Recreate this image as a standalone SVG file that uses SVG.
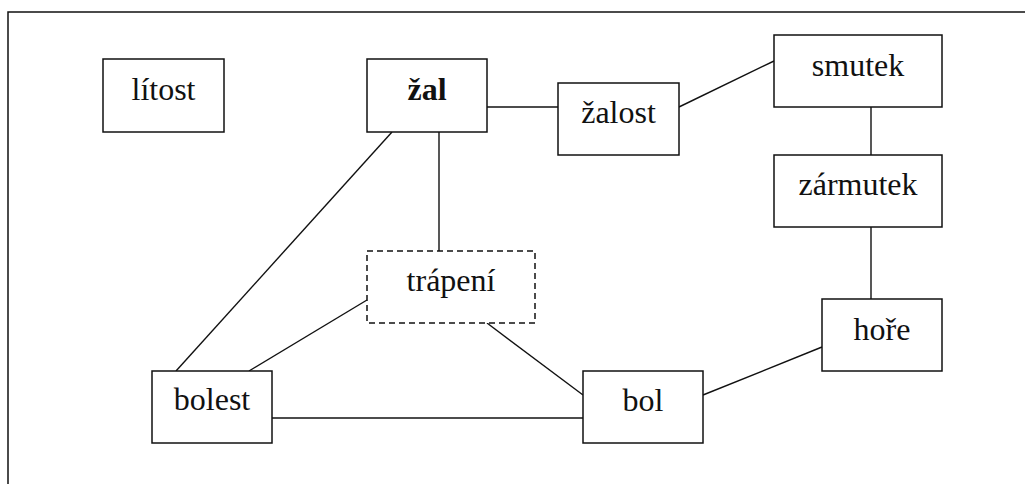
<svg xmlns="http://www.w3.org/2000/svg" width="1025" height="484" viewBox="0 0 1025 484">
<style>
.box{fill:#fff;stroke:#111;stroke-width:1.5}
.dash{stroke-dasharray:6,4}
.lbl{font-family:'Liberation Serif','DejaVu Serif',serif;font-size:32px;fill:#111;text-anchor:middle}
.b{font-weight:bold}
.con line{stroke:#111;stroke-width:1.4}
</style>
<rect width="1025" height="484" fill="#fff"/>
<path d="M8,484 V12 H1025" fill="none" stroke="#111" stroke-width="1.5"/>
<g class="con" id="connectors">
<line x1="487" y1="107" x2="558" y2="107"/>
<line x1="679" y1="107" x2="774" y2="61"/>
<line x1="871" y1="107" x2="871" y2="155"/>
<line x1="871" y1="227" x2="871" y2="299"/>
<line x1="822" y1="347" x2="703" y2="395"/>
<line x1="487" y1="323" x2="583" y2="395"/>
<line x1="272" y1="418" x2="583" y2="418"/>
<line x1="249" y1="371" x2="367" y2="300"/>
<line x1="176" y1="371" x2="392" y2="132"/>
<line x1="439" y1="132" x2="439" y2="251"/>
</g>
<g id="litost"><rect class="box" x="103" y="59" width="121" height="73"/><text class="lbl" font-family="Liberation Serif" x="163.5" y="100">lítost</text></g>
<g id="zal"><rect class="box" x="367" y="59" width="120" height="73"/><text class="lbl b" font-family="Liberation Serif" x="427" y="100">žal</text></g>
<g id="zalost"><rect class="box" x="558" y="83" width="121" height="72"/><text class="lbl" font-family="Liberation Serif" x="618.5" y="123">žalost</text></g>
<g id="smutek"><rect class="box" x="774" y="35" width="168" height="72"/><text class="lbl" font-family="Liberation Serif" x="858" y="76">smutek</text></g>
<g id="zarmutek"><rect class="box" x="774" y="155" width="168" height="72"/><text class="lbl" font-family="Liberation Serif" x="858" y="195">zármutek</text></g>
<g id="trapeni"><rect class="box dash" x="367" y="251" width="168" height="72"/><text class="lbl" font-family="Liberation Serif" x="451" y="291">trápení</text></g>
<g id="bolest"><rect class="box" x="152" y="371" width="120" height="72"/><text class="lbl" font-family="Liberation Serif" x="212" y="410">bolest</text></g>
<g id="bol"><rect class="box" x="583" y="371" width="120" height="72"/><text class="lbl" font-family="Liberation Serif" x="643" y="411">bol</text></g>
<g id="hore"><rect class="box" x="822" y="299" width="120" height="72"/><text class="lbl" font-family="Liberation Serif" x="882" y="340">hoře</text></g>
</svg>
